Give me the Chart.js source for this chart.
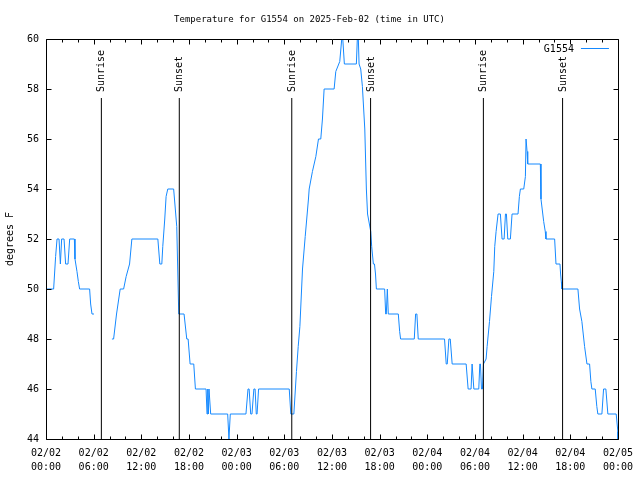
<!DOCTYPE html>
<html>
<head>
<meta charset="utf-8">
<script src="https://cdn.jsdelivr.net/npm/chart.js@4/dist/chart.umd.min.js"></script>
<style>
  body { margin: 0; background: #fff; }
  canvas { display: block; }
</style>
</head>
<body>
<canvas id="temps" width="640" height="480"></canvas>
<script>
// hours since 2025-02-02 00:00 UTC; null = no data (line breaks)
var hours = [
  0.13, 0.96, 1.21, 1.39, 1.64, 1.81, 1.97, 2.27, 2.47, 2.77, 2.98, 3.57, 3.65, 3.90, 4.07, 4.23,
  5.49, 5.62, 5.79, 6.04,
  7.0,
  8.30, 8.51, 8.88, 9.34, 9.77, 10.09, 10.52, 10.81, 14.08, 14.33, 14.58, 14.70, 14.95, 15.12, 15.33,
  16.07, 16.46, 16.71, 17.38, 17.72, 17.89, 18.14, 18.60, 18.81, 20.15, 20.27, 20.36, 20.44, 20.52,
  20.73, 22.87, 23.03, 23.20, 25.17, 25.43, 25.57, 25.77, 25.93, 26.17, 26.32, 26.47, 26.57, 26.76,
  30.62, 30.82, 31.20, 31.53, 31.75, 31.96, 32.29, 32.63, 33.04, 33.13, 33.54, 33.97, 34.30, 34.59,
  34.80, 35.01, 36.27, 36.48, 36.98, 37.23, 37.36, 37.56, 39.07, 39.19, 39.32, 39.41, 39.62, 39.83,
  40.13, 40.33, 40.48, 40.88, 41.00, 41.21, 41.35, 41.48, 41.59, 42.63, 42.76, 42.84, 42.97, 43.09,
  44.35, 44.52, 44.64, 46.36, 46.53, 46.69, 46.86, 50.17, 50.38, 50.51, 50.72, 50.89, 51.13, 52.89,
  53.14, 53.51, 53.64, 53.73, 53.86, 54.48, 54.61, 54.69, 54.82, 54.94, 55.07, 55.40, 55.53, 55.83,
  56.08, 56.37, 56.49, 56.66, 56.91, 57.20, 57.41, 57.67, 57.84, 57.96, 58.13, 58.46, 58.67, 59.42,
  59.59, 59.72, 60.14, 60.35, 60.43, 60.47, 60.56, 60.64, 62.23, 62.31, 62.65, 62.85, 62.94, 64.03,
  64.20, 64.70, 64.78, 64.87, 64.95, 66.96, 67.17, 67.46, 67.80, 68.10, 68.43, 68.59, 68.72, 69.14,
  69.34, 69.47, 69.98, 70.19, 70.48, 70.73, 71.78, 71.99, 72.0
];
var temps = [
  50, 50, 51.3, 52, 52, 51, 52, 52, 51, 51, 52, 52, 51.2, 50.7, 50.3, 50,
  50, 49.4, 49, 49,
  null,
  48, 48, 49, 50, 50, 50.5, 51, 52, 52, 51, 51, 51.7, 52.8, 53.7, 54,
  54, 52.5, 49, 49, 48, 48, 47, 47, 46, 46, 45, 46, 45, 46,
  45, 45, 44, 45, 45, 46, 46, 45, 45, 46, 46, 45, 45, 46,
  46, 45, 45, 46.7, 47.7, 48.5, 50.8, 52.1, 53.6, 54, 54.7, 55.3, 56, 56,
  56.8, 58, 58, 58.7, 59.1, 60, 60, 59, 59, 60, 60, 59, 58.8, 58.1,
  56.4, 54, 53, 52.3, 51.7, 51, 51, 50.6, 50, 50, 49, 49, 50, 49,
  49, 48.3, 48, 48, 49, 49, 48, 48, 47, 47, 48, 48, 47, 47,
  46, 46, 47, 47, 46, 46, 47, 47, 46, 46, 47, 47.2, 47.7, 48.7,
  49.7, 50.7, 51.7, 52.3, 53, 53, 52, 52, 53, 53, 52, 52, 53, 53,
  53.7, 54, 54, 54.5, 56, 56, 55.5, 55, 55, 53.6, 52.7, 52.3, 52, 52,
  51, 51, 50.6, 50.3, 50, 50, 49.2, 48.7, 47.7, 47, 47, 46.3, 46, 46,
  45.3, 45, 45, 46, 46, 45, 45, 44.3, 44
];

var sunHours = [6.97, 16.78, 30.94, 40.86, 55.06, 65.03];
var sunLabels = ['Sunrise', 'Sunset', 'Sunrise', 'Sunset', 'Sunrise', 'Sunset'];
var sunTop = 57.64;

var xTickDates = ['02/02', '02/02', '02/02', '02/02', '02/03', '02/03', '02/03', '02/03',
                  '02/04', '02/04', '02/04', '02/04', '02/05'];
var xTickTimes = ['00:00', '06:00', '12:00', '18:00', '00:00', '06:00', '12:00', '18:00',
                  '00:00', '06:00', '12:00', '18:00', '00:00'];

var mono = 'DejaVu Sans Mono';
var lineColor = '#1589ff';

var sunPoints = [];
sunHours.forEach(function(h) {
  sunPoints.push({ x: h, y: 44 }, { x: h, y: sunTop }, { x: h, y: null });
});

// gnuplot style frame, inward ticks, sun labels and key
var gnuFrame = {
  id: 'gnuFrame',
  afterDatasetsDraw: function(chart) {
    var ctx = chart.ctx, a = chart.chartArea;
    var xs = chart.scales.x, ys = chart.scales.y;
    var L = Math.round(a.left) + 0.5, R = Math.round(a.right) + 0.5;
    var T = Math.round(a.top) + 0.5, B = Math.round(a.bottom) + 0.5;
    ctx.save();
    ctx.strokeStyle = '#000';
    ctx.lineWidth = 1;
    ctx.beginPath();
    ctx.rect(L, T, R - L, B - T);
    for (var h = 0; h <= 72; h += 2) {
      var px = Math.round(xs.getPixelForValue(h)) + 0.5;
      var len = h % 6 === 0 ? 5 : 3;
      ctx.moveTo(px, B); ctx.lineTo(px, B - len);
      ctx.moveTo(px, T); ctx.lineTo(px, T + len);
    }
    for (var v = 44; v <= 60; v += 2) {
      var py = Math.round(ys.getPixelForValue(v)) + 0.5;
      ctx.moveTo(L, py); ctx.lineTo(L + 5, py);
      ctx.moveTo(R, py); ctx.lineTo(R - 5, py);
    }
    ctx.stroke();

    ctx.fillStyle = '#000';
    ctx.font = '10px "' + mono + '"';
    sunHours.forEach(function(h, i) {
      ctx.save();
      ctx.translate(Math.round(xs.getPixelForValue(h)) + 0.5, ys.getPixelForValue(sunTop) - 6);
      ctx.rotate(-Math.PI / 2);
      ctx.textAlign = 'left';
      ctx.textBaseline = 'middle';
      ctx.fillText(sunLabels[i], 0, 0);
      ctx.restore();
    });

    // key
    var ds = chart.data.datasets[1];
    ctx.textAlign = 'right';
    ctx.textBaseline = 'middle';
    ctx.fillText(ds.label, a.right - 44, a.top + 10);
    ctx.strokeStyle = ds.borderColor;
    ctx.beginPath();
    ctx.moveTo(a.right - 37, a.top + 9.5);
    ctx.lineTo(a.right - 9, a.top + 9.5);
    ctx.stroke();
    ctx.restore();
  }
};

new Chart(document.getElementById('temps'), {
  type: 'line',
  data: {
    datasets: [
      {
        label: 'sun',
        data: sunPoints,
        borderColor: '#000',
        borderWidth: 1,
        pointRadius: 0,
        spanGaps: false
      },
      {
        label: 'G1554',
        data: hours.map(function(h, i) { return { x: h, y: temps[i] }; }),
        borderColor: lineColor,
        borderWidth: 1,
        pointRadius: 0,
        tension: 0,
        spanGaps: false
      }
    ]
  },
  options: {
    responsive: false,
    animation: false,
    layout: { padding: { left: 0, right: 21, top: 0, bottom: 0 } },
    plugins: {
      legend: { display: false },
      tooltip: { enabled: false },
      title: {
        display: true,
        text: 'Temperature for G1554 on 2025-Feb-02 (time in UTC)',
        color: '#000',
        font: { family: mono, size: 9, weight: 'normal', lineHeight: 1.2 },
        padding: { top: 14, bottom: 14.2 }
      }
    },
    scales: {
      x: {
        type: 'linear',
        min: 0,
        max: 72,
        grid: { display: false, drawTicks: false },
        border: { display: false },
        afterFit: function(s) { s.height = 41; },
        ticks: {
          stepSize: 6,
          autoSkip: false,
          maxRotation: 0,
          padding: 7,
          color: '#000',
          font: { family: mono, size: 10, lineHeight: 1.4 },
          callback: function(v) {
            var i = Math.round(v / 6);
            return [xTickDates[i], xTickTimes[i]];
          }
        }
      },
      y: {
        min: 44,
        max: 60,
        grid: { display: false, drawTicks: false },
        border: { display: false },
        afterFit: function(s) { s.width = 46; },
        title: {
          display: true,
          text: 'degrees F',
          color: '#000',
          font: { family: mono, size: 10, lineHeight: 1.2 },
          padding: { top: 4, bottom: 0 }
        },
        ticks: {
          stepSize: 2,
          padding: 7,
          color: '#000',
          font: { family: mono, size: 10 }
        }
      }
    }
  },
  plugins: [gnuFrame]
});
</script>
</body>
</html>
